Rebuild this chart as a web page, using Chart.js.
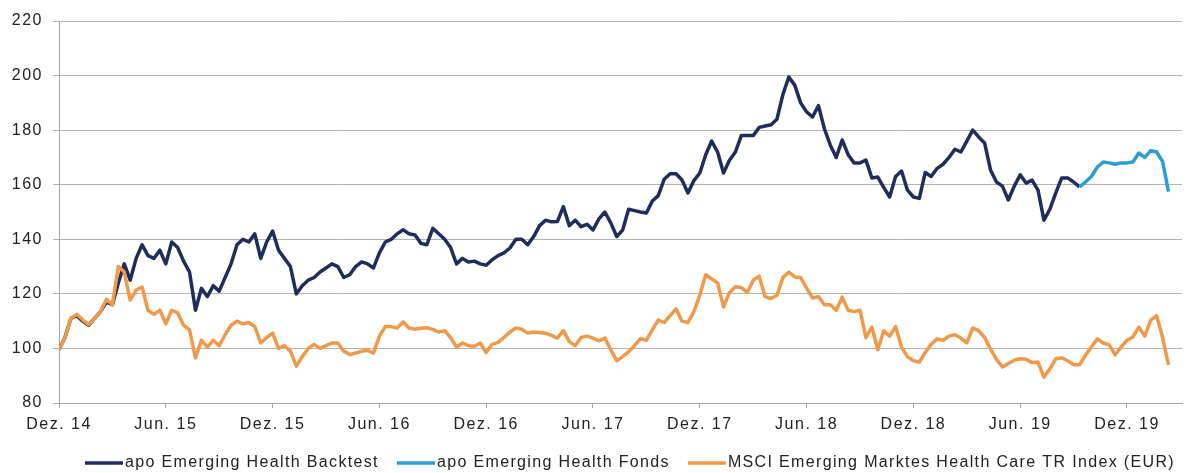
<!DOCTYPE html>
<html>
<head>
<meta charset="utf-8">
<script src="https://cdn.jsdelivr.net/npm/chart.js@4/dist/chart.umd.min.js"></script>
<style>
  html, body { margin: 0; padding: 0; background: #ffffff; }
  #c { display: block; }
</style>
</head>
<body>
<canvas id="c" width="1198" height="473"></canvas>
<script>
// Half-year tick labels, starting at Dec 2014
const tickLabels = ['Dez. 14', 'Jun. 15', 'Dez. 15', 'Jun. 16', 'Dez. 16', 'Jun. 17',
                    'Dez. 17', 'Jun. 18', 'Dez. 18', 'Jun. 19', 'Dez. 19'];

// Series names
const seriesNames = ['apo Emerging Health Backtest', 'apo Emerging Health Fonds',
                     'MSCI Emerging Marktes Health Care TR Index (EUR)'];

// Observations every third of a month (~10 days) from Dec 2014
const stepMonths = 1 / 3;

// apo Emerging Health, backtest (indexed, Dec 2014 = 100)
const backtest = [
  99.5, 104, 111, 112, 110, 108.5, 111, 113.5, 117, 116,
  124, 131, 125, 133, 138, 134, 133, 136, 131, 139,
  137, 132, 128, 114, 122, 119, 123, 121, 126, 131,
  138, 140, 139, 142, 133, 139, 143, 136, 133, 130,
  120, 123, 125, 126, 128, 129.5, 131, 130, 126, 127,
  130, 131.7, 131, 129.5, 135, 139, 140, 142, 143.5, 142,
  141.6, 138.5, 138, 144, 142, 140, 137, 131, 133, 131.7,
  132, 131, 130.5, 132.5, 134, 135, 136.8, 140, 140, 138,
  141, 145, 147, 146.4, 146.5, 152, 145, 147, 144.6, 145.5,
  143.4, 147.5, 150, 146, 141, 143.4, 151, 150.5, 150, 149.6,
  154, 156, 162, 164, 164, 161.7, 157, 161.5, 164.3, 171,
  176, 172, 164.3, 169, 172, 178, 178, 178, 181, 181.5,
  182, 184, 193, 199.5, 196.5, 190, 186.7, 184.8, 189, 180.5,
  174.5, 170, 176.4, 171, 168, 168, 169, 162.5, 162.8, 159,
  155.5, 163, 165, 158, 155.5, 155, 164.5, 163, 166, 167.5,
  170, 173, 172, 176, 180, 177.5, 175.3, 165.4, 161, 159.5,
  154.4, 159.5, 163.6, 160.6, 161.7, 158, 147, 151, 157, 162.5,
  162.5, 161, 159.2
];

// apo Emerging Health fund, live track record (continues the backtest)
const fundStart = 172;
const fund = [
  159.2, 161, 163, 166.5, 168.3, 168, 167.5, 168, 168, 168.3,
  171.6, 170, 172.5, 172, 168.5, 157.5
];

// MSCI Emerging Markets Health Care TR Index (EUR), indexed
const msci = [
  99.5, 104, 111, 112.5, 110.5, 108.7, 111, 113.5, 118, 116,
  130, 128, 117.7, 121.4, 122.5, 114, 112.5, 114, 109, 114,
  113, 108.5, 106.8, 96.5, 103, 100.5, 103, 101, 105, 108.5,
  110, 109, 109.5, 108, 102, 104, 105.6, 100, 101, 99,
  93.5, 97, 100, 101.5, 100, 101, 102, 102, 99, 97.8,
  98.3, 99, 99.3, 98.3, 104.5, 108, 108, 107.5, 109.7, 107.5,
  107, 107.4, 107.6, 107, 106, 106.5, 104, 100.5, 102, 101,
  100.8, 102, 98.5, 101.5, 102.2, 104, 106, 107.5, 107, 105.6,
  106, 105.8, 105.6, 104.8, 103.8, 106.5, 102.5, 101, 104, 104.5,
  103.8, 102.8, 103.8, 99.5, 95.5, 97, 98.8, 101, 103.6, 103,
  106.8, 110.4, 109.5, 112, 114.5, 110, 109.5, 113.5, 119.5, 127,
  125.5, 124, 115.2, 120.5, 122.6, 122.3, 120.5, 125, 126.5, 119,
  118.3, 119.5, 126, 128, 126.2, 126, 122.1, 118.5, 119, 116,
  116, 114, 118.8, 114, 113.5, 114, 104, 107.8, 99.5, 106.5,
  104.5, 108, 100.5, 97, 95.5, 95, 98.5, 101.5, 103.5, 103,
  104.5, 105, 103.8, 102, 107.5, 106.5, 104, 99.8, 96, 93.2,
  94.5, 95.7, 96.2, 96, 94.8, 95, 89.5, 92.5, 96.2, 96.6,
  95.5, 94, 94, 97.5, 100.5, 103.5, 102, 101.3, 97.6, 100.5,
  103, 104.2, 107.8, 104.5, 110.4, 112, 104, 94
];

const colors = { backtest: '#1f2d5c', fund: '#2a9ed6', msci: '#f1994a' };
const gridColor = '#b3b3b3';
const axisColor = '#a6a6a6';
const textColor = '#222222';
const fontFamily = '"Liberation Sans", Arial, sans-serif';
const letterSpacing = '1.5px';
const legendSpacing = '1.35px';

const toPoints = (values, offset) =>
  values.map((v, i) => ({ x: (offset + i) * stepMonths, y: v }));

// Horizontal line-sample legend drawn below the x axis
const lineLegend = {
  id: 'lineLegend',
  afterDraw(chart) {
    const ctx = chart.ctx;
    const items = [
      { label: seriesNames[0], color: colors.backtest },
      { label: seriesNames[1], color: colors.fund },
      { label: seriesNames[2], color: colors.msci }
    ];
    const sample = 38, gapText = 2, gapItem = 18;
    ctx.save();
    ctx.letterSpacing = legendSpacing;
    ctx.font = '16px ' + fontFamily;
    ctx.textBaseline = 'middle';
    ctx.textAlign = 'left';
    let x = chart.chartArea.left + 26;
    const y = 463;
    items.forEach(it => {
      ctx.strokeStyle = it.color;
      ctx.lineWidth = 3.5;
      ctx.beginPath();
      ctx.moveTo(x, y);
      ctx.lineTo(x + sample, y);
      ctx.stroke();
      x += sample + gapText;
      ctx.fillStyle = textColor;
      ctx.fillText(it.label, x, y);
      x += ctx.measureText(it.label).width + gapItem;
    });
    ctx.restore();
  }
};

// Slightly tracked-out text, as in the printed factsheet
const spacing = {
  id: 'spacing',
  beforeUpdate(chart) { chart.ctx.letterSpacing = letterSpacing; },
  beforeDraw(chart) { chart.ctx.letterSpacing = letterSpacing; }
};

const lineStyle = { borderWidth: 3.5, pointRadius: 0, tension: 0, borderJoinStyle: 'round' };

new Chart(document.getElementById('c'), {
  type: 'line',
  data: {
    datasets: [
      Object.assign({ label: seriesNames[2], data: toPoints(msci, 0), borderColor: colors.msci }, lineStyle),
      Object.assign({ label: seriesNames[1], data: toPoints(fund, fundStart), borderColor: colors.fund }, lineStyle),
      Object.assign({ label: seriesNames[0], data: toPoints(backtest, 0), borderColor: colors.backtest }, lineStyle)
    ]
  },
  options: {
    responsive: false,
    animation: false,
    devicePixelRatio: 1,
    layout: { padding: { left: 0, right: 16, top: 21, bottom: 30 } },
    plugins: {
      legend: { display: false },
      tooltip: { enabled: false }
    },
    scales: {
      x: {
        type: 'linear',
        min: 0,
        max: 63.09,
        afterBuildTicks(scale) {
          scale.ticks = tickLabels.map((_, k) => ({ value: k * 6 }));
        },
        afterFit(scale) { scale.height = 40; },
        ticks: {
          autoSkip: false,
          maxRotation: 0,
          padding: 7,
          color: textColor,
          font: { family: fontFamily, size: 16 },
          callback: (v) => tickLabels[Math.round(v / 6)]
        },
        grid: {
          drawOnChartArea: false,
          drawTicks: true,
          tickLength: 5,
          color: axisColor
        },
        border: { display: true, color: axisColor, width: 1 }
      },
      y: {
        min: 80,
        max: 220,
        afterFit(scale) { scale.width = 59; },
        ticks: {
          stepSize: 20,
          padding: 10,
          color: textColor,
          font: { family: fontFamily, size: 16 }
        },
        grid: {
          color: gridColor,
          lineWidth: 1,
          drawTicks: true,
          tickLength: 6
        },
        border: { display: true, color: axisColor, width: 1 }
      }
    }
  },
  plugins: [spacing, lineLegend]
});
</script>
</body>
</html>
